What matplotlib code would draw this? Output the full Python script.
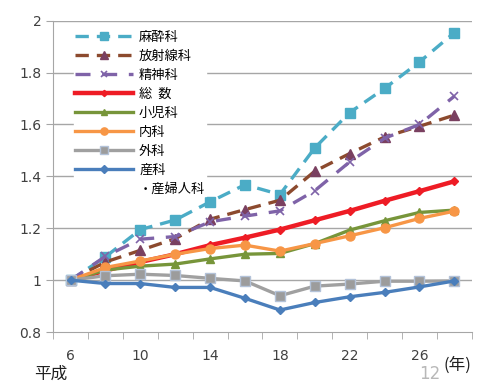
import matplotlib
matplotlib.use("Agg")
import matplotlib.pyplot as plt
from matplotlib.lines import Line2D

plt.rcParams["font.family"] = ["DejaVu Sans", "Noto Sans CJK JP"]

years = [6, 8, 10, 12, 14, 16, 18, 20, 22, 24, 26, 28]
year_labels = ["6", "", "10", "", "14", "", "18", "", "22", "", "26", ""]

masui = [1.00, 1.09, 1.195, 1.232, 1.302, 1.368, 1.330, 1.510, 1.646, 1.739, 1.841, 1.954]
hoshasen = [1.00, 1.07, 1.115, 1.16, 1.235, 1.272, 1.308, 1.42, 1.488, 1.552, 1.593, 1.636]
seishin = [1.00, 1.092, 1.158, 1.168, 1.225, 1.247, 1.267, 1.345, 1.456, 1.547, 1.60, 1.709]
soukei = [1.00, 1.037, 1.07, 1.10, 1.135, 1.164, 1.195, 1.231, 1.267, 1.306, 1.343, 1.381]
shouni = [1.00, 1.039, 1.054, 1.062, 1.082, 1.10, 1.103, 1.141, 1.193, 1.229, 1.261, 1.27]
naika = [1.00, 1.049, 1.074, 1.10, 1.122, 1.135, 1.112, 1.141, 1.171, 1.202, 1.238, 1.266]
geka = [1.00, 1.017, 1.023, 1.018, 1.007, 0.997, 0.94, 0.977, 0.985, 0.996, 0.996, 0.997]
sanka = [1.00, 0.987, 0.987, 0.972, 0.972, 0.93, 0.885, 0.914, 0.936, 0.953, 0.974, 0.997]

fig = plt.figure(figsize=(4.92, 3.83), dpi=100)
ax = fig.add_axes([0.108, 0.133, 0.851, 0.813])

x = list(range(len(years)))
jp = ["Noto Sans CJK JP", "DejaVu Sans"]

ax.plot(x, masui, color="#4BACC6", lw=2.4, dashes=(4, 2.4), marker="s", ms=7,
        mfc="#4BACC6", mec="#4BACC6", label="麻酔科")
ax.plot(x, hoshasen, color="#8C4A2E", lw=2.4, dashes=(4, 2.4), marker="^", ms=6.5,
        mfc="#7A4060", mec="#7A4060", label="放射線科")
ax.plot(x, seishin, color="#7F63A8", lw=2.4, dashes=(4.5, 3.5), marker="x", ms=6,
        mew=1.2, mec="#7F63A8", label="精神科")
ax.plot(x, soukei, color="#EE1C25", lw=3.2, marker="D", ms=4,
        mfc="#EE1C25", mec="#EE1C25", label="総  数")
ax.plot(x, shouni, color="#77953A", lw=2.4, marker="^", ms=6,
        mfc="#77953A", mec="#77953A", label="小児科")
ax.plot(x, naika, color="#F79646", lw=2.4, marker="o", ms=6.5,
        mfc="#F79646", mec="#F79646", label="内科")
ax.plot(x, geka, color="#A0A0A0", lw=2.4, marker="s", ms=6.5,
        mfc="#9C9C9C", mec="#B3C2D8", mew=1, label="外科")
ax.plot(x, sanka, color="#4A7EBB", lw=2.4, marker="D", ms=4.5,
        mfc="#4A7EBB", mec="#4A7EBB", label="産科")

ax.set_xlim(-0.5, len(years) - 0.5)
ax.set_ylim(0.8, 2.0)
yt = [0.8, 1.0, 1.2, 1.4, 1.6, 1.8, 2.0]
ax.set_yticks(yt)
ax.set_yticklabels(["0.8", "1", "1.2", "1.4", "1.6", "1.8", "2"], fontsize=10, color="#404040")
for v in yt[1:]:
    ax.axhline(v, color="#A6A6A6", lw=1, zorder=0)

# category labels centred, tick marks on the boundaries
ax.set_xticks(x)
ax.set_xticklabels(year_labels, fontsize=10, color="#404040")
ax.tick_params(axis="x", which="major", length=0, pad=12)
ax.set_xticks([i - 0.5 for i in range(len(years) + 1)], minor=True)
ax.tick_params(axis="x", which="minor", length=5, color="#A6A6A6", direction="out")
ax.tick_params(axis="y", length=5, color="#A6A6A6", direction="out")

for s in ["top", "right"]:
    ax.spines[s].set_visible(False)
for s in ["left", "bottom"]:
    ax.spines[s].set_color("#A6A6A6")

handles, labels = ax.get_legend_handles_labels()
handles.append(Line2D([], [], lw=0))
labels.append("・産婦人科")
leg = ax.legend(handles, labels, loc="upper left", bbox_to_anchor=(0.035, 0.99),
                frameon=True, fancybox=False, framealpha=1, edgecolor="white",
                handlelength=4.4, handletextpad=0.45, labelspacing=0.45,
                borderpad=0.05, markerscale=0.8, prop={"family": jp, "size": 9.5})

fig.text(0.07, 0.012, "平成", fontsize=12, family=jp, color="#202020")
fig.text(0.902, 0.035, "(年)", fontsize=12, family=jp, color="#202020")
fig.text(0.852, 0.0, "12", fontsize=12, color="#B8B8B8", va="bottom")

fig.savefig("out.png", dpi=100)
